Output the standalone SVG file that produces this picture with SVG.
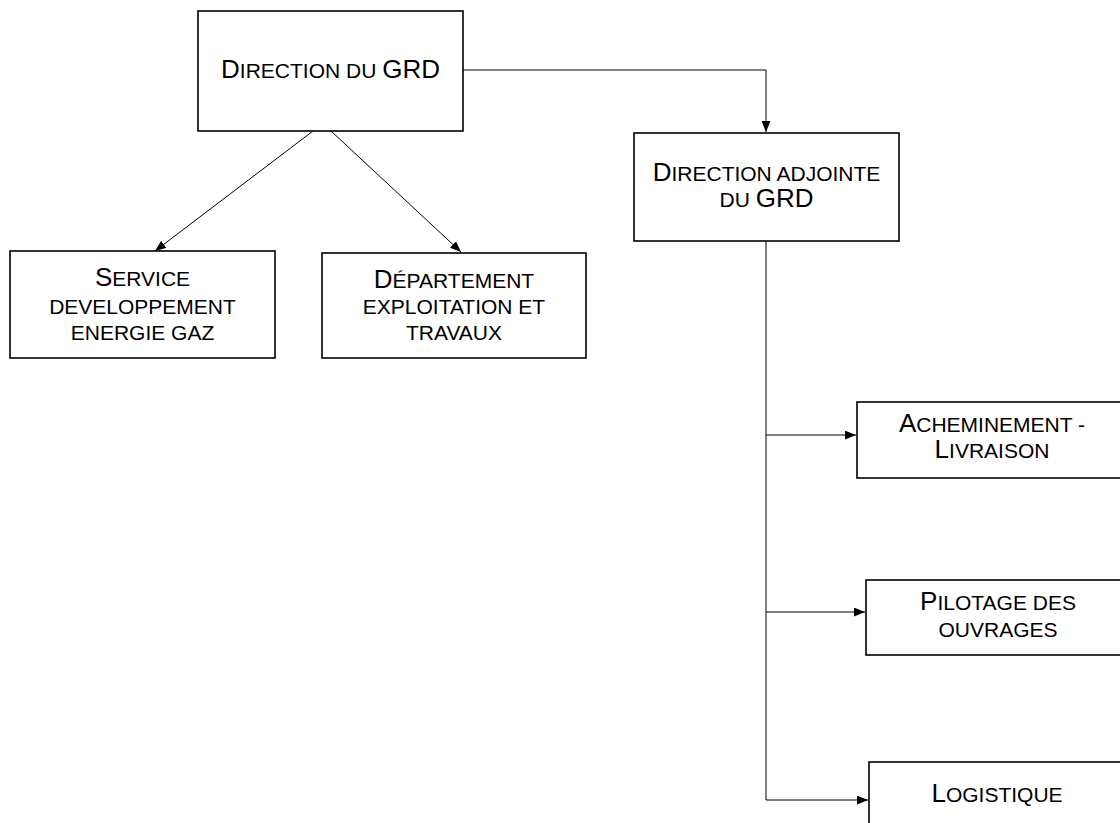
<svg xmlns="http://www.w3.org/2000/svg" width="1120" height="823" viewBox="0 0 1120 823">
<style>
.box{fill:#fff;stroke:#000;stroke-width:1.6}
.t{font-family:"Liberation Sans",Arial,sans-serif;font-size:21px;fill:#000;text-anchor:middle}
.b{font-size:26px}
.c{fill:none;stroke:#000;stroke-width:1}
</style>
<defs>
<marker id="ah" viewBox="0 0 10 8" refX="10" refY="4" markerWidth="11" markerHeight="9" markerUnits="userSpaceOnUse" orient="auto">
<path d="M0,0 L10,4 L0,8 Z" fill="#000"/>
</marker>
</defs>
<rect width="1120" height="823" fill="#fff"/>
<g id="connectors">
<path class="c" d="M463,70 H766 V132" marker-end="url(#ah)"/>
<path class="c" d="M313,131 L155,251" marker-end="url(#ah)"/>
<path class="c" d="M331,131 L461,252" marker-end="url(#ah)"/>
<path class="c" d="M766,241 V800 H868" marker-end="url(#ah)"/>
<path class="c" d="M766,435 H856" marker-end="url(#ah)"/>
<path class="c" d="M766,612 H865" marker-end="url(#ah)"/>
</g>
<g id="n1"><rect class="box" x="198" y="11" width="265" height="120"/>
<text class="t" x="330.5" y="78"><tspan class="b">D</tspan>IRECTION DU <tspan class="b">GRD</tspan></text></g>
<g id="n2"><rect class="box" x="10" y="251" width="265" height="107"/>
<text class="t" x="142.5" y="286"><tspan class="b">S</tspan>ERVICE</text>
<text class="t" x="142.5" y="314">DEVELOPPEMENT</text>
<text class="t" x="142.5" y="340">ENERGIE GAZ</text></g>
<g id="n3"><rect class="box" x="322" y="253" width="264" height="105"/>
<text class="t" x="454" y="288"><tspan class="b">D</tspan>ÉPARTEMENT</text>
<text class="t" x="454" y="314">EXPLOITATION ET</text>
<text class="t" x="454" y="340">TRAVAUX</text></g>
<g id="n4"><rect class="box" x="634" y="133" width="265" height="108"/>
<text class="t" x="766.5" y="181"><tspan class="b">D</tspan>IRECTION ADJOINTE</text>
<text class="t" x="766.5" y="207">DU <tspan class="b">GRD</tspan></text></g>
<g id="n5"><rect class="box" x="857" y="402" width="270" height="76"/>
<text class="t" x="992" y="432"><tspan class="b">A</tspan>CHEMINEMENT -</text>
<text class="t" x="992" y="458"><tspan class="b">L</tspan>IVRAISON</text></g>
<g id="n6"><rect class="box" x="866" y="580" width="265" height="75"/>
<text class="t" x="998" y="610"><tspan class="b">P</tspan>ILOTAGE DES</text>
<text class="t" x="998" y="637">OUVRAGES</text></g>
<g id="n7"><rect class="box" x="869" y="762" width="265" height="75"/>
<text class="t" x="997" y="802"><tspan class="b">L</tspan>OGISTIQUE</text></g>
</svg>
